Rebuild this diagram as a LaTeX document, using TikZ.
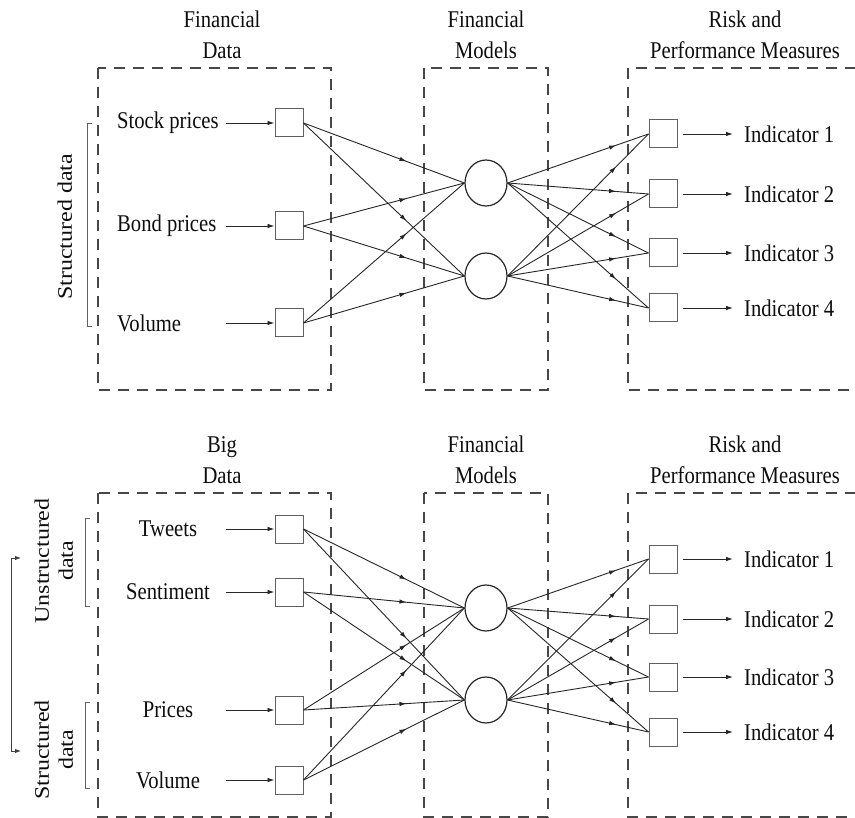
\documentclass[tikz,border=0pt]{standalone}
\usepackage{graphicx}
\usepackage{fontspec}
\setmainfont{Liberation Serif}[FakeStretch=0.86]
\newfontfamily\sidefont{Liberation Serif}
\usetikzlibrary{arrows.meta,shapes.geometric,decorations.markings}
\newcommand{\sidetext}[1]{\scalebox{1}[0.86]{\sidefont\fontsize{24}{28}\selectfont\begin{tabular}{@{}c@{}}#1\end{tabular}}}

\begin{document}
\begin{tikzpicture}[x=1pt, y=-1pt,
  font=\fontsize{24}{31}\selectfont, text=black!95,
  >={Latex[length=7pt,width=4.5pt]},
  box/.style={draw=black!72, line width=1.1pt, dash pattern=on 11pt off 8pt},
  head/.style={align=center, anchor=south, inner sep=0pt, text depth=0pt},
  unit/.style={draw=black!62, rectangle, minimum size=28pt, inner sep=0pt, line width=1pt},
  model/.style={draw=black!85, ellipse, minimum width=42pt, minimum height=46pt, inner sep=0pt, line width=1.2pt},
  wire/.style={draw=black!85, line width=0.9pt},
  toModel/.style={wire, postaction={decorate}, decoration={markings, mark=at position 0.64 with {\arrow{>}}}},
  toOut/.style={wire, postaction={decorate}, decoration={markings, mark=at position 0.77 with {\arrow{>}}}},
  brace/.style={draw=black!62, line width=1pt},
]
\useasboundingbox (0,0) rectangle (855,818);

\node[head] (Top headD) at (222,59) {Financial\\Data};
\node[head] (Top headM) at (486,59) {Financial\\Models};
\node[head] (Top headR) at (745,59) {Risk and\\Performance Measures};
\draw[box] (98,68) rectangle (331,390);
\draw[box] (424,68) rectangle (548,390);
\draw[box] (856,68) -- (628,68) -- (628,390) -- (856,390);

\draw[brace] (92,124) -- (87,124) -- (87,327) -- (92,327);
\node[rotate=90, inner sep=0pt] (Top struct) at (67,227) {\sidetext{Structured data}};

\node[anchor=west, inner sep=0pt] (Top dataL1) at (117,123) {Stock prices};
\node[anchor=west, inner sep=0pt] (Top dataL2) at (117,226) {Bond prices};
\node[anchor=west, inner sep=0pt] (Top dataL3) at (117,323) {Volume};
\coordinate (Top dataS1) at (226,123);
\coordinate (Top dataS2) at (226,226);
\coordinate (Top dataS3) at (226,323);
\node[unit] (Top dataN1) at (289,123) {};
\node[unit] (Top dataN2) at (289,226) {};
\node[unit] (Top dataN3) at (289,323) {};
\draw[wire, ->] (Top dataS1) -- (Top dataN1.west);
\draw[wire, ->] (Top dataS2) -- (Top dataN2.west);
\draw[wire, ->] (Top dataS3) -- (Top dataN3.west);

\node[model] (Top modelN1) at (486,183) {};
\node[model] (Top modelN2) at (486,276) {};
\draw[toModel] (Top dataN1.east) -- (Top modelN1.west);
\draw[toModel] (Top dataN1.east) -- (Top modelN2.west);
\draw[toModel] (Top dataN2.east) -- (Top modelN1.west);
\draw[toModel] (Top dataN2.east) -- (Top modelN2.west);
\draw[toModel] (Top dataN3.east) -- (Top modelN1.west);
\draw[toModel] (Top dataN3.east) -- (Top modelN2.west);

\node[unit] (Top outN1) at (663,134) {};
\node[unit] (Top outN2) at (663,194) {};
\node[unit] (Top outN3) at (663,253) {};
\node[unit] (Top outN4) at (663,308) {};
\draw[toOut] (Top modelN1.east) -- (Top outN1.west);
\draw[toOut] (Top modelN1.east) -- (Top outN2.west);
\draw[toOut] (Top modelN1.east) -- (Top outN3.west);
\draw[toOut] (Top modelN1.east) -- (Top outN4.west);
\draw[toOut] (Top modelN2.east) -- (Top outN1.west);
\draw[toOut] (Top modelN2.east) -- (Top outN2.west);
\draw[toOut] (Top modelN2.east) -- (Top outN3.west);
\draw[toOut] (Top modelN2.east) -- (Top outN4.west);

\node[anchor=west, inner sep=0pt] (Top indL1) at (744,134) {Indicator 1};
\node[anchor=west, inner sep=0pt] (Top indL2) at (744,194) {Indicator 2};
\node[anchor=west, inner sep=0pt] (Top indL3) at (744,253) {Indicator 3};
\node[anchor=west, inner sep=0pt] (Top indL4) at (744,308) {Indicator 4};
\draw[wire, ->, shorten <=5pt, shorten >=11pt] (Top outN1.east) -- (Top indL1.west);
\draw[wire, ->, shorten <=5pt, shorten >=11pt] (Top outN2.east) -- (Top indL2.west);
\draw[wire, ->, shorten <=5pt, shorten >=11pt] (Top outN3.east) -- (Top indL3.west);
\draw[wire, ->, shorten <=5pt, shorten >=11pt] (Top outN4.east) -- (Top indL4.west);

\node[head] (Bottom headD) at (222,484) {Big\\Data};
\node[head] (Bottom headM) at (486,484) {Financial\\Models};
\node[head] (Bottom headR) at (745,484) {Risk and\\Performance Measures};
\draw[box] (98,493) rectangle (331,817);
\draw[box] (424,493) rectangle (548,817);
\draw[box] (856,493) -- (628,493) -- (628,817) -- (856,817);

\draw[brace] (90,518) -- (85,518) -- (85,606) -- (90,606);
\draw[brace] (90,702) -- (85,702) -- (85,788) -- (90,788);
\node[rotate=90, inner sep=0pt] (Bottom unstruct) at (56,561) {\sidetext{Unstructured\\data}};
\node[rotate=90, inner sep=0pt] (Bottom struct) at (56,750) {\sidetext{Structured\\data}};
\coordinate (Bottom sideA) at (21,558);
\coordinate (Bottom sideB) at (21,751);
\draw[draw=black!75, line width=1pt, {Latex[length=6pt,width=4.5pt]}-{Latex[length=6pt,width=4.5pt]}] (Bottom sideA) -- (11,558) -- (11,751) -- (Bottom sideB);

\node[inner sep=0pt] (Bottom dataL1) at (168,529) {Tweets};
\node[inner sep=0pt] (Bottom dataL2) at (168,592) {Sentiment};
\node[inner sep=0pt] (Bottom dataL3) at (168,710) {Prices};
\node[inner sep=0pt] (Bottom dataL4) at (168,780) {Volume};
\coordinate (Bottom dataS1) at (226,529);
\coordinate (Bottom dataS2) at (226,592);
\coordinate (Bottom dataS3) at (226,710);
\coordinate (Bottom dataS4) at (226,780);
\node[unit] (Bottom dataN1) at (289,529) {};
\node[unit] (Bottom dataN2) at (289,592) {};
\node[unit] (Bottom dataN3) at (289,710) {};
\node[unit] (Bottom dataN4) at (289,780) {};
\draw[wire, ->] (Bottom dataS1) -- (Bottom dataN1.west);
\draw[wire, ->] (Bottom dataS2) -- (Bottom dataN2.west);
\draw[wire, ->] (Bottom dataS3) -- (Bottom dataN3.west);
\draw[wire, ->] (Bottom dataS4) -- (Bottom dataN4.west);

\node[model] (Bottom modelN1) at (486,608) {};
\node[model] (Bottom modelN2) at (486,700) {};
\draw[toModel] (Bottom dataN1.east) -- (Bottom modelN1.west);
\draw[toModel] (Bottom dataN1.east) -- (Bottom modelN2.west);
\draw[toModel] (Bottom dataN2.east) -- (Bottom modelN1.west);
\draw[toModel] (Bottom dataN2.east) -- (Bottom modelN2.west);
\draw[toModel] (Bottom dataN3.east) -- (Bottom modelN1.west);
\draw[toModel] (Bottom dataN3.east) -- (Bottom modelN2.west);
\draw[toModel] (Bottom dataN4.east) -- (Bottom modelN1.west);
\draw[toModel] (Bottom dataN4.east) -- (Bottom modelN2.west);

\node[unit] (Bottom outN1) at (663,559) {};
\node[unit] (Bottom outN2) at (663,619) {};
\node[unit] (Bottom outN3) at (663,677) {};
\node[unit] (Bottom outN4) at (663,732) {};
\draw[toOut] (Bottom modelN1.east) -- (Bottom outN1.west);
\draw[toOut] (Bottom modelN1.east) -- (Bottom outN2.west);
\draw[toOut] (Bottom modelN1.east) -- (Bottom outN3.west);
\draw[toOut] (Bottom modelN1.east) -- (Bottom outN4.west);
\draw[toOut] (Bottom modelN2.east) -- (Bottom outN1.west);
\draw[toOut] (Bottom modelN2.east) -- (Bottom outN2.west);
\draw[toOut] (Bottom modelN2.east) -- (Bottom outN3.west);
\draw[toOut] (Bottom modelN2.east) -- (Bottom outN4.west);

\node[anchor=west, inner sep=0pt] (Bottom indL1) at (744,559) {Indicator 1};
\node[anchor=west, inner sep=0pt] (Bottom indL2) at (744,619) {Indicator 2};
\node[anchor=west, inner sep=0pt] (Bottom indL3) at (744,677) {Indicator 3};
\node[anchor=west, inner sep=0pt] (Bottom indL4) at (744,732) {Indicator 4};
\draw[wire, ->, shorten <=5pt, shorten >=11pt] (Bottom outN1.east) -- (Bottom indL1.west);
\draw[wire, ->, shorten <=5pt, shorten >=11pt] (Bottom outN2.east) -- (Bottom indL2.west);
\draw[wire, ->, shorten <=5pt, shorten >=11pt] (Bottom outN3.east) -- (Bottom indL3.west);
\draw[wire, ->, shorten <=5pt, shorten >=11pt] (Bottom outN4.east) -- (Bottom indL4.west);
\end{tikzpicture}
\end{document}
